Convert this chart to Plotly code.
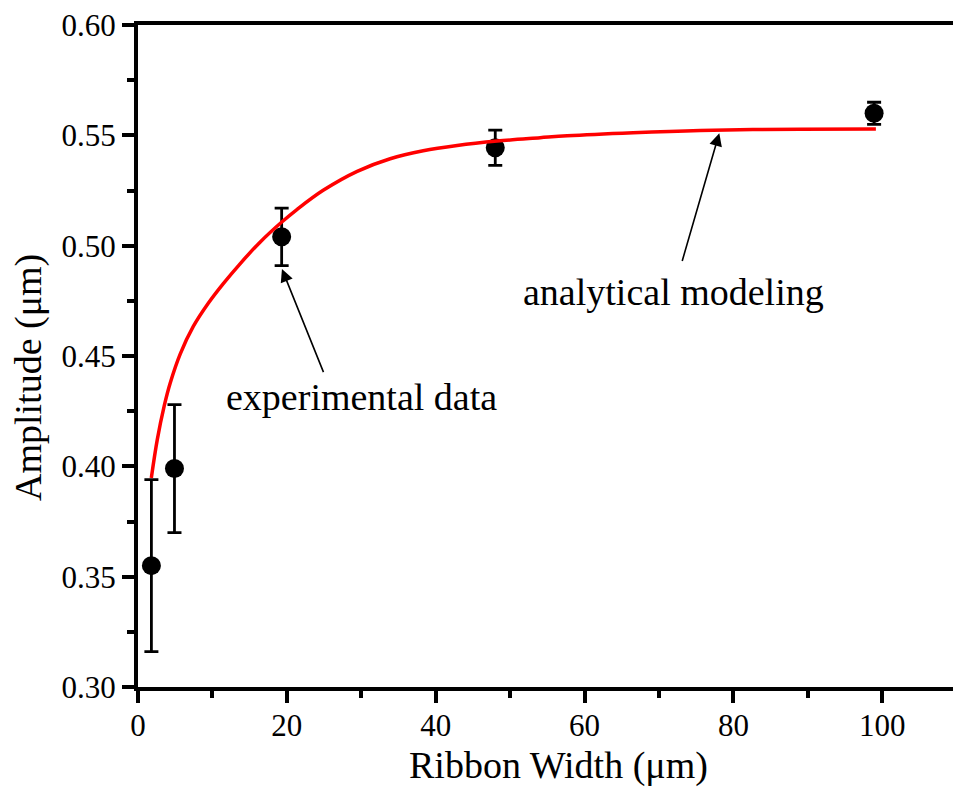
import plotly.graph_objects as go

# Measured amplitude vs ribbon width (mean and error)
width_um = [1.8, 4.9, 19.3, 48.0, 98.9]
amplitude_um = [0.355, 0.399, 0.504, 0.5444, 0.560]
amplitude_err = [0.039, 0.029, 0.013, 0.008, 0.005]

# Analytical model curve, sampled
model_width = [1.79, 2.59, 3.53, 4.34, 5.68, 7.43, 9.44, 11.46, 13.74, 16.43,
               19.24, 21.39, 24.88, 29.45, 33.88, 38.32, 42.88, 48.25, 54.03,
               57.66, 66.52, 75.52, 88.95, 99.14]
model_amp = [0.3947, 0.4121, 0.4275, 0.4379, 0.4510, 0.4634, 0.4739, 0.4828,
             0.4919, 0.5017, 0.5105, 0.5165, 0.5251, 0.5337, 0.5394, 0.5430,
             0.5454, 0.5474, 0.5489, 0.5498, 0.5512, 0.5522, 0.5528, 0.5529]

x_ticks = [0, 20, 40, 60, 80, 100]
y_ticks = [0.30, 0.35, 0.40, 0.45, 0.50, 0.55, 0.60]

FONT = "Liberation Serif, Times New Roman, serif"

fig = go.Figure()

fig.add_trace(go.Scatter(
    x=width_um, y=amplitude_um, mode="markers",
    marker=dict(color="black", size=19, line=dict(width=0)),
    error_y=dict(type="data", array=amplitude_err, visible=True,
                 color="black", thickness=2.8, width=7),
    showlegend=False, cliponaxis=False,
))

fig.add_trace(go.Scatter(
    x=model_width, y=model_amp, mode="lines",
    line=dict(color="#ff0000", width=3.5, shape="spline", smoothing=1.0),
    showlegend=False,
))

axis_common = dict(
    showgrid=False, zeroline=False, showline=True, linecolor="black",
    linewidth=4, ticks="outside", tickcolor="black", tickwidth=3.5,
    ticklen=12, tickfont=dict(family=FONT, size=31, color="black"),
)

fig.update_xaxes(
    range=[0, 109.5], tickvals=x_ticks, mirror=True, ticklabelstandoff=-4,
    minor=dict(dtick=10, tick0=0, ticks="outside", ticklen=7,
               tickwidth=3.5, tickcolor="black"),
    **axis_common,
)
fig.update_yaxes(
    range=[0.30, 0.60], tickvals=y_ticks, tickformat=".2f",
    minor=dict(dtick=0.025, tick0=0.30, ticks="outside", ticklen=7,
               tickwidth=3.5, tickcolor="black"),
    **axis_common,
)

anns = []
# axis titles (pixel positions, converted below)
anns.append(dict(text="Ribbon Width (\u03bcm)", x=558, y=765, showarrow=False))
anns.append(dict(text="Amplitude (\u03bcm)", x=28, y=378, textangle=-90,
                 showarrow=False))
# text labels
anns.append(dict(text="experimental data", x=30.0, y=0.4315, xref="x",
                 yref="y", showarrow=False))
anns.append(dict(text="analytical modeling", x=72.0, y=0.4789, xref="x",
                 yref="y", showarrow=False))

layout_anns = []
for a in anns:
    a = dict(a)
    a.setdefault("font", dict(family=FONT, size=38, color="black"))
    layout_anns.append(a)

# convert pixel-placed titles to paper coordinates
L, R, T, B = 138, 0, 25, 103
W, H = 953, 790
pw, ph = W - L - R, H - T - B
for a in layout_anns[:2]:
    a["xref"] = "paper"
    a["yref"] = "paper"
    a["x"] = (a["x"] - L) / pw
    a["y"] = (H - B - a["y"]) / ph
    a["xanchor"] = "center"
    a["yanchor"] = "middle"

# arrows
layout_anns.append(dict(x=19.34, y=0.4894, ax=25.0, ay=0.4420, xref="x", yref="y",
                        axref="x", ayref="y", text="", showarrow=True,
                        arrowhead=2, arrowsize=1.6, arrowwidth=1.6,
                        arrowcolor="black"))
layout_anns.append(dict(x=78.1, y=0.5510, ax=73.06, ay=0.4924, xref="x", yref="y",
                        axref="x", ayref="y", text="", showarrow=True,
                        arrowhead=2, arrowsize=1.6, arrowwidth=1.6,
                        arrowcolor="black"))

fig.update_layout(
    width=W, height=H,
    margin=dict(l=L, r=R, t=T, b=B, pad=0),
    paper_bgcolor="white", plot_bgcolor="white",
    annotations=layout_anns,
    font=dict(family=FONT, color="black"),
)

fig.write_html("out.html")
